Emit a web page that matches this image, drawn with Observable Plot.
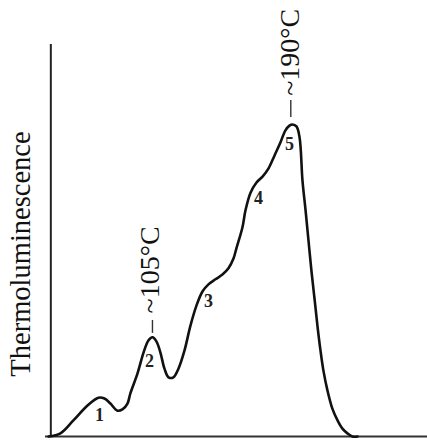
<!DOCTYPE html>
<html>
<head>
<meta charset="utf-8">
<script src="https://cdn.jsdelivr.net/npm/d3@7"></script>
<script src="https://cdn.jsdelivr.net/npm/@observablehq/plot@0.6"></script>
<style>
  html, body { margin: 0; padding: 0; background: #fff; }
  #chart { width: 427px; height: 442px; overflow: hidden; }
</style>
</head>
<body>
<div id="chart"></div>
<script>
// Glow curve: temperature (°C) vs thermoluminescence (arbitrary units)
const temperature = [41, 48.3, 56.3, 65.0, 71.7, 75.4, 79.1, 83.4, 86.5, 89.6, 91.4, 95.8, 99.5, 102.5, 105,
  107.5, 109.9, 112.4, 114.9, 117.9, 121.0, 124.7, 128.4, 132.1, 135.8, 139.5, 143.8, 148.1, 151.8, 154.9,
  156.7, 160.4, 162.3, 165.4, 169.1, 172.8, 176.5, 180.2, 183.8, 186.9, 189.4, 191.2, 193.7, 195.6, 197.4,
  199.3, 201.1, 202.9, 204.8, 206.6, 208.5, 210.3, 212.8, 215.8, 219.0, 222.0, 225.1, 228.2, 231.3];
const intensity = [0, 0.8, 4.1, 7.9, 9.9, 9.7, 8.4, 6.6, 6.9, 8.4, 11.0, 16.1, 21.4, 24.5, 25.3,
  24.2, 21.4, 17.3, 15.1, 15.1, 17.3, 21.9, 28.3, 33.4, 37.0, 38.8, 40.1, 41.3, 42.9, 45.4,
  48.0, 53.3, 57.7, 62.2, 64.8, 66.3, 68.4, 71.7, 75.0, 78.1, 79.3, 79.6, 79.1, 76.3, 65.3,
  57.7, 50.0, 42.3, 35.2, 28.3, 21.9, 16.8, 11.7, 7.1, 4.1, 2.0, 0.8, 0, 0];

// Peak numbers
const peakNumbers = ["1", "2", "3", "4", "5"];
const peakNumberT = [72.4, 103.2, 139.5, 170.3, 189.4];
const peakNumberI = [5.4, 19.1, 34.4, 60.7, 74.5];

// Temperature annotations
const annotationText = ["~105°C", "~190°C"];
const annotationT = [103.5, 189.7];
const annotationI = [42.5, 98.0];
const tickT = [105, 190.2];
const tickLow = [26.3, 81.4];
const tickHigh = [29.6, 85.7];

const yLabel = "Thermoluminescence";

const curve = temperature.map((t, i) => ({t, v: intensity[i]}));
const numbers = peakNumbers.map((s, i) => ({s, t: peakNumberT[i], v: peakNumberI[i]}));
const annots = annotationText.map((s, i) => ({s, t: annotationT[i], v: annotationI[i]}));
const ticks = tickT.map((t, i) => ({t, lo: tickLow[i], hi: tickHigh[i]}));

const chart = Plot.plot({
  width: 427,
  height: 442,
  marginLeft: 50,
  marginRight: 0,
  marginTop: 44,
  marginBottom: 6,
  x: {domain: [42.2, 274.4], axis: null},
  y: {domain: [0, 100], axis: null},
  style: {fontFamily: "'Liberation Serif', 'Times New Roman', serif", background: "#fff", color: "#111"},
  marks: [
    Plot.ruleX([42.4], {y1: 0, y2: 100, stroke: "#222", strokeWidth: 2}),
    Plot.ruleY([0], {x1: 39.1, x2: 274.4, stroke: "#333", strokeWidth: 2}),
    Plot.line(curve, {x: "t", y: "v", curve: "catmull-rom", stroke: "#111", strokeWidth: 2.6}),
    Plot.ruleX(ticks, {x: "t", y1: "lo", y2: "hi", stroke: "#333", strokeWidth: 1.4}),
    Plot.text(annots, {x: "t", y: "v", text: "s", rotate: -90, fontSize: 28, fill: "#111"}),
    Plot.text(numbers, {x: "t", y: "v", text: "s", fontSize: 18, fontWeight: "bold", fill: "#222"}),
    Plot.text([yLabel], {frameAnchor: "left", textAnchor: "middle", rotate: -90, dx: -30, dy: 13.5, fontSize: 28.5, fill: "#111"})
  ]
});
document.getElementById("chart").appendChild(chart);
</script>
</body>
</html>
